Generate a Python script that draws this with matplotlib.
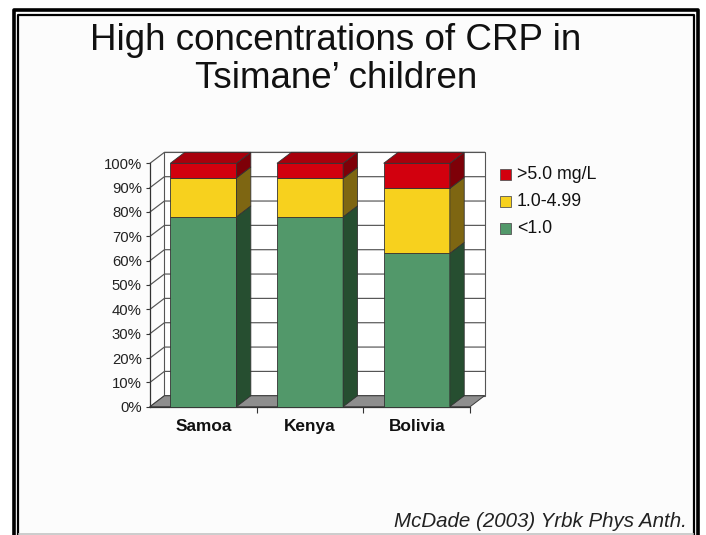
import matplotlib.pyplot as plt
from matplotlib.patches import Polygon, Rectangle
from matplotlib.lines import Line2D

# data (percent of children in each CRP class)
countries = ['Samoa', 'Kenya', 'Bolivia']
low = [78.0, 78.0, 63.0]       # <1.0
mid = [16.0, 15.8, 26.7]       # 1.0-4.99
high = [6.0, 6.2, 10.3]        # >5.0 mg/L
series_labels = ['>5.0 mg/L', '1.0-4.99', '<1.0']
yticks = list(range(0, 101, 10))

# colours: front, side, top
green = ('#52986a', '#264e30', '#3f7a52')
yellow = ('#f7d11e', '#7e6612', '#c9a818')
red = ('#d2000e', '#7e0008', '#a8000c')

plt.rcParams['font.family'] = ['Liberation Sans', 'DejaVu Sans']

W, H = 706, 535
fig = plt.figure(figsize=(W / 100, H / 100), dpi=100)
fig.patch.set_facecolor('white')


def fx(px):
    return px / W


def fy(py):
    return 1 - py / H


# slide background and double border (open at the bottom)
fig.patches.append(Rectangle((fx(18), 0), fx(694) - fx(18), fy(15), transform=fig.transFigure,
                             facecolor='#fcfcfc', edgecolor='none', zorder=-5))
fig.lines.append(Line2D([fx(13.5), fx(13.5), fx(698), fx(698)], [0, fy(10), fy(10), 0],
                        transform=fig.transFigure, color='black', lw=2.6))
fig.lines.append(Line2D([fx(18), fx(18), fx(694), fx(694)], [0, fy(15), fy(15), 0],
                        transform=fig.transFigure, color='black', lw=1.6))
fig.lines.append(Line2D([fx(19), fx(693)], [fy(533.5), fy(533.5)],
                        transform=fig.transFigure, color='#c4c4c4', lw=1.2))

# title
fig.text(fx(336), fy(50), 'High concentrations of CRP in', ha='center', va='baseline',
         fontsize=26.5, color='#111111')
fig.text(fx(336), fy(88), 'Tsimane\u2019 children', ha='center', va='baseline',
         fontsize=26.5, color='#111111')

# citation
fig.text(fx(687), fy(527), 'McDade (2003) Yrbk Phys Anth.', ha='right', va='baseline',
         fontsize=14.8, style='italic', color='#222222')

# plot area: x in category units (1 unit = 106.7 px, 0 at px 150),
# y in percent (1 unit = 2.434 px, 0 at px 406.7)
ux, uy = 106.7, 2.434
x0px, y0px = 150, 406.7
xl, xr, yb, yt = -0.5, 3.5, -10, 110
ax = fig.add_axes([fx(x0px + xl * ux), fy(y0px - yb * uy),
                   (xr - xl) * ux / W, (yt - yb) * uy / H])
ax.set_xlim(xl, xr)
ax.set_ylim(yb, yt)
ax.patch.set_visible(False)

dx, dy = 0.135, 4.5
n = len(countries)
grid_c = '#555555'

# back wall
ax.add_patch(Polygon([(dx, dy), (n + dx, dy), (n + dx, 100 + dy), (dx, 100 + dy)],
                     closed=True, facecolor='white', edgecolor=grid_c, lw=0.8, zorder=1))
for v in yticks:
    ax.plot([0, dx, n + dx], [v, v + dy, v + dy], color=grid_c, lw=0.85, zorder=2)

# floor
ax.add_patch(Polygon([(0, 0), (n, 0), (n + dx, dy), (dx, dy)], closed=True,
                     facecolor='#8e8e8e', edgecolor='#3a3a3a', lw=0.7, zorder=3))

# stacked 3D bars
bw = 0.62
for i in range(n):
    left = i + (1 - bw) / 2
    right = left + bw
    base = 0
    segs = [(low[i], green), (mid[i], yellow), (high[i], red)]
    for k, (val, (cf, cs, ct)) in enumerate(segs):
        top = base + val
        ax.add_patch(Rectangle((left, base), bw, val, facecolor=cf,
                               edgecolor='#333333', lw=0.6, zorder=5))
        ax.add_patch(Polygon([(right, base), (right + dx, base + dy),
                              (right + dx, top + dy), (right, top)], closed=True,
                             facecolor=cs, edgecolor='#333333', lw=0.6, zorder=5))
        if k == len(segs) - 1:
            ax.add_patch(Polygon([(left, top), (right, top), (right + dx, top + dy),
                                  (left + dx, top + dy)], closed=True,
                                 facecolor=ct, edgecolor='#333333', lw=0.6, zorder=5))
        base = top

# axes: front vertical axis and bottom edge
for s in ['top', 'right']:
    ax.spines[s].set_visible(False)
ax.spines['left'].set_position(('data', 0))
ax.spines['left'].set_bounds(0, 100)
ax.spines['bottom'].set_position(('data', 0))
ax.spines['bottom'].set_bounds(0, n)
for s in ['left', 'bottom']:
    ax.spines[s].set_color('#333333')
    ax.spines[s].set_linewidth(0.9)
    ax.spines[s].set_zorder(4)

ax.set_yticks(yticks)
ax.set_yticklabels([f'{v}%' for v in yticks], fontsize=10.7, color='#222222')
ax.tick_params(axis='y', length=3, width=0.8, pad=2.9, color='#333333')

ax.set_xticks([i + 0.5 for i in range(n)])
ax.set_xticklabels(countries, fontsize=12.4, fontweight='bold', color='#111111')
ax.set_xticks(range(1, n + 1), minor=True)
ax.tick_params(axis='x', which='major', length=0, pad=8.5)
ax.tick_params(axis='x', which='minor', length=4, width=0.8, color='#333333')

# legend
rows = [(series_labels[0], red[0]), (series_labels[1], yellow[0]), (series_labels[2], green[0])]
for k, (lab, col) in enumerate(rows):
    cy = 174.5 + k * 26.8
    fig.patches.append(Rectangle((fx(500), fy(cy + 5.5)), 11 / W, 11 / H, transform=fig.transFigure,
                                 facecolor=col, edgecolor='#555555', lw=0.6, zorder=5))
    fig.text(fx(517), fy(cy), lab, ha='left', va='center', fontsize=12.8, color='#111111')

fig.savefig('out.png', dpi=100)
